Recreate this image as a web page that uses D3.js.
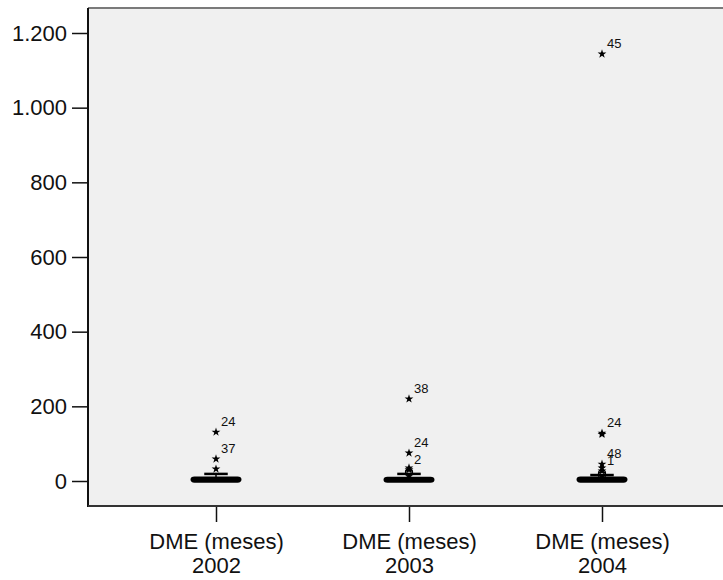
<!DOCTYPE html>
<html lang="es">
<head>
<meta charset="UTF-8">
<title>DME (meses)</title>
<script src="https://d3js.org/d3.v7.min.js"></script>
<style>
    body { margin: 0; background: white; }
    svg text { font-family: Arial, "Liberation Sans", sans-serif; fill: #111; }
</style>
</head>
<body>
<svg id="chart" width="723" height="580"></svg>
<script>
    // valores
    const years = ['2002', '2003', '2004'];
    const varName = 'DME (meses)';
    const whiskerLow = [0, 0, 0];
    const q1 = [1, 1, 1];
    const median = [2, 2, 2];
    const q3 = [7, 6, 7];
    const whiskerHigh = [19, 19, 16];
    // valores atipicos (circulos)
    const outliers = [
        [],
        [24, 21],
        [21, 16]
    ];
    // valores extremos (estrellas) y sus etiquetas
    const extremes = [
        [{ v: 131, label: '24' }, { v: 59, label: '37' }, { v: 32, label: '' }],
        [{ v: 220, label: '38' }, { v: 75, label: '24' }, { v: 30, label: '2' }, { v: 35, label: '' }],
        [{ v: 1144, label: '45' }, { v: 128, label: '24' }, { v: 125, label: '' },
         { v: 45, label: '48' }, { v: 27, label: '1' }, { v: 35, label: '' }]
    ];
    const yTicks = [0, 200, 400, 600, 800, 1000, 1200];

    const plot = { left: 88, right: 723, top: 8, bottom: 506 };

    const svg = d3.select('#chart');

    const x = d3.scalePoint().domain(years).range([216, 602]);
    const y = d3.scaleLinear().domain([0, 1200]).range([481, 33]);

    const locale = d3.formatLocale({ decimal: ',', thousands: '.', grouping: [3], currency: ['', '€'] });
    const fmt = locale.format(',d');

    // fondo del area
    svg.append('rect')
        .attr('x', plot.left)
        .attr('y', plot.top)
        .attr('width', plot.right - plot.left)
        .attr('height', plot.bottom - plot.top)
        .attr('fill', '#f0f0f0');

    svg.append('line')
        .attr('x1', plot.left).attr('x2', plot.right)
        .attr('y1', plot.top).attr('y2', plot.top)
        .attr('stroke', '#7a7a7a').attr('stroke-width', 2);

    // eje Y
    const yAxis = svg.append('g')
        .attr('transform', `translate(${plot.left},0)`)
        .call(d3.axisLeft(y).tickValues(yTicks).tickSize(16).tickPadding(5).tickFormat(fmt));
    yAxis.select('.domain').remove();
    yAxis.selectAll('.tick line').attr('stroke', '#111').attr('stroke-width', 1.5);
    yAxis.selectAll('.tick text').attr('font-size', 22).attr('font-family', 'Arial, "Liberation Sans", sans-serif');

    // eje X
    const xAxis = svg.append('g')
        .attr('transform', `translate(0,${plot.bottom})`)
        .call(d3.axisBottom(x).tickSize(16).tickFormat(''));
    xAxis.select('.domain').remove();
    xAxis.selectAll('.tick line').attr('stroke', '#111').attr('stroke-width', 1.5);
    xAxis.selectAll('.tick').each(function(d) {
        const t = d3.select(this).append('text')
            .attr('text-anchor', 'middle')
            .attr('font-size', 22)
            .attr('fill', '#111');
        t.append('tspan').attr('x', 0).attr('y', 43).text(varName);
        t.append('tspan').attr('x', 0).attr('y', 67).text(d);
    });

    svg.append('line')
        .attr('x1', plot.left).attr('x2', plot.left)
        .attr('y1', plot.top).attr('y2', plot.bottom + 1)
        .attr('stroke', '#111').attr('stroke-width', 2);
    svg.append('line')
        .attr('x1', plot.left).attr('x2', plot.right)
        .attr('y1', plot.bottom).attr('y2', plot.bottom)
        .attr('stroke', '#333').attr('stroke-width', 2);

    // cajas
    const boxW = 47;
    const boxes = svg.append('g');
    years.forEach((yr, i) => {
        const cx = x(yr);
        boxes.append('line')
            .attr('x1', cx).attr('x2', cx)
            .attr('y1', y(q3[i])).attr('y2', y(whiskerHigh[i]))
            .attr('stroke', '#000').attr('stroke-width', 1.5);
        boxes.append('line')
            .attr('x1', cx - boxW / 4).attr('x2', cx + boxW / 4)
            .attr('y1', y(whiskerHigh[i])).attr('y2', y(whiskerHigh[i]))
            .attr('stroke', '#000').attr('stroke-width', 2.5);
        boxes.append('line')
            .attr('x1', cx).attr('x2', cx)
            .attr('y1', y(q1[i])).attr('y2', y(whiskerLow[i]))
            .attr('stroke', '#000').attr('stroke-width', 1.5);
        boxes.append('rect')
            .attr('x', cx - boxW / 2)
            .attr('y', y(q3[i]))
            .attr('width', boxW)
            .attr('height', y(q1[i]) - y(q3[i]))
            .attr('rx', 2)
            .attr('fill', '#000')
            .attr('stroke', '#000')
            .attr('stroke-width', 4);
        boxes.append('line')
            .attr('x1', cx - boxW / 2).attr('x2', cx + boxW / 2)
            .attr('y1', y(median[i])).attr('y2', y(median[i]))
            .attr('stroke', '#000').attr('stroke-width', 2);

        // circulos
        boxes.selectAll(null)
            .data(outliers[i])
            .enter()
            .append('circle')
            .attr('cx', cx)
            .attr('cy', d => y(d))
            .attr('r', 3.5)
            .attr('fill', 'none')
            .attr('stroke', '#000')
            .attr('stroke-width', 1.3);

        // estrellas
        const star = d3.symbol().type(d3.symbolStar).size(24);
        boxes.selectAll(null)
            .data(extremes[i])
            .enter()
            .append('path')
            .attr('d', star)
            .attr('transform', d => `translate(${cx},${y(d.v)})`)
            .attr('fill', '#000');

        boxes.selectAll(null)
            .data(extremes[i].filter(d => d.label !== ''))
            .enter()
            .append('text')
            .attr('x', cx + 5)
            .attr('y', d => y(d.v) - 6)
            .attr('font-size', 13)
            .attr('fill', '#222')
            .text(d => d.label);
    });
</script>
</body>
</html>
